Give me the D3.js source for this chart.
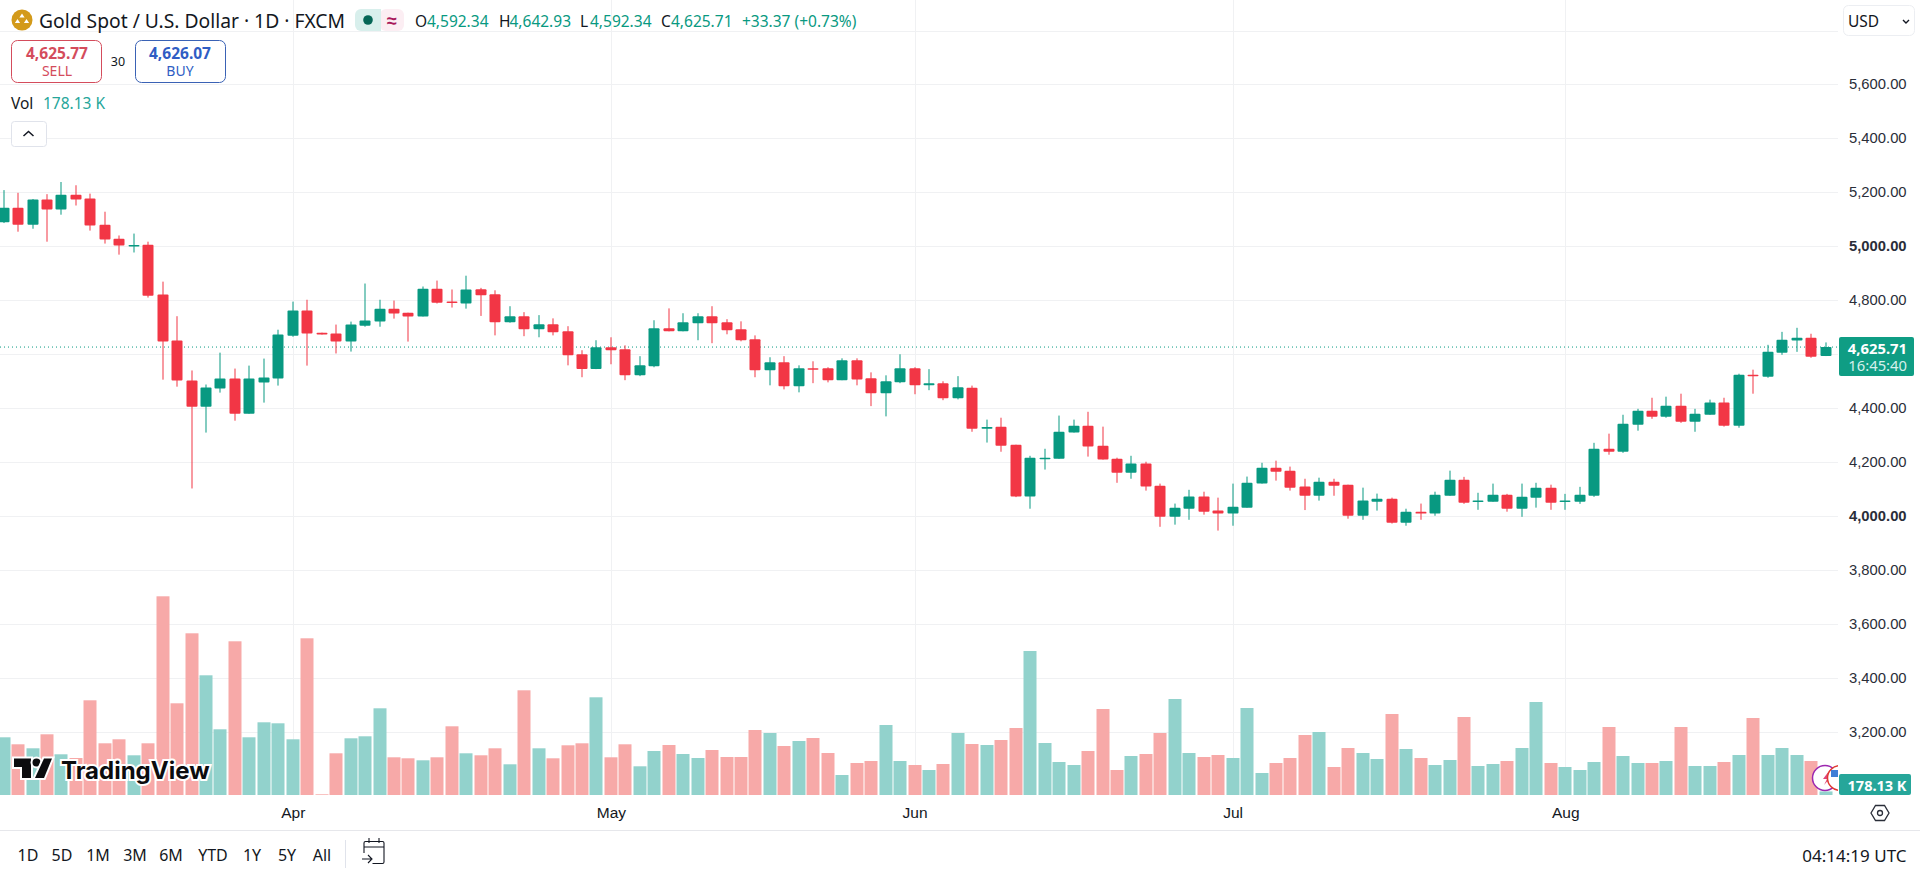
<!DOCTYPE html>
<html><head><meta charset="utf-8">
<style>
html,body{margin:0;padding:0;background:#fff;overflow:hidden}
svg{display:block;font-family:"Noto Sans",sans-serif}
.hg .domain,.vg .domain{display:none}
.hg line,.vg line{stroke:#f0f1f3;stroke-width:1;shape-rendering:crispEdges}
.hg text{font-size:14.8px;fill:#2a2e39}
.vg text{font-size:15.5px;fill:#131722;font-weight:500}
</style>
<script src="https://cdn.jsdelivr.net/npm/d3@7/dist/d3.min.js"></script>
</head><body>
<svg id="c" width="1920" height="877"></svg>
<script>
const open=[5088,5142,5079,5172,5135,5190,5176,5079,5027,5002,5005,4820,4650,4502,4405,4472,4509,4379,4494,4509,4668,4761,4679,4676,4646,4705,4720,4768,4753,4739,4842,4794,4787,4840,4821,4718,4740,4692,4710,4684,4599,4544,4625,4618,4521,4555,4695,4684,4714,4740,4718,4692,4655,4540,4569,4481,4547,4547,4503,4577,4510,4455,4495,4547,4484,4492,4436,4475,4323,4331,4264,4072,4212,4212,4309,4334,4260,4212,4160,4194,4112,3997,4027,4072,4020,4009,4031,4120,4179,4168,4109,4075,4127,4116,4001,4053,4064,3975,4016,4009,4075,4134,4053,4053,4079,4027,4068,4105,4052,4053,4075,4249,4238,4338,4390,4368,4408,4349,4375,4420,4334,4523,4516,4605,4650,4660,4592.34];
const high=[5207,5197,5174,5192,5237,5225,5194,5127,5039,5046,5016,4868,4740,4539,4487,4605,4546,4557,4583,4690,4794,4801,4679,4709,4720,4861,4801,4798,4753,4850,4872,4839,4890,4845,4836,4777,4755,4744,4732,4703,4614,4651,4662,4632,4592,4725,4769,4751,4751,4777,4729,4721,4669,4588,4592,4558,4573,4551,4584,4584,4532,4521,4599,4551,4544,4499,4518,4483,4357,4364,4264,4223,4249,4372,4357,4386,4331,4216,4223,4201,4120,4046,4097,4090,4068,4120,4146,4197,4205,4183,4138,4142,4138,4116,4105,4083,4068,4027,4046,4090,4168,4145,4086,4120,4082,4120,4123,4116,4082,4108,4271,4305,4375,4397,4438,4442,4453,4397,4431,4438,4527,4542,4634,4682,4697,4675,4642.93];
const low=[5085,5053,5064,5016,5116,5150,5057,5009,4968,4976,4809,4505,4479,4102,4309,4457,4353,4379,4420,4483,4664,4557,4672,4602,4609,4701,4701,4731,4646,4739,4787,4772,4768,4741,4669,4716,4666,4662,4669,4558,4514,4544,4562,4503,4518,4551,4684,4684,4651,4640,4673,4647,4514,4484,4469,4458,4492,4495,4503,4484,4407,4369,4492,4451,4466,4429,4432,4312,4272,4238,4070,4027,4172,4212,4309,4220,4209,4123,4138,4094,3960,3968,3986,4005,3946,3964,4031,4120,4131,4094,4022,4057,4075,3990,3986,4020,3972,3964,3986,4001,4075,4045,4023,4053,4016,3997,4031,4023,4023,4045,4071,4227,4234,4316,4360,4364,4345,4312,4375,4331,4327,4453,4512,4597,4608,4586,4592.34];
const close=[5142,5079,5172,5135,5190,5172,5076,5024,5002,5004,4816,4646,4502,4405,4476,4509,4379,4509,4513,4672,4761,4676,4672,4646,4709,4724,4768,4750,4739,4842,4790,4790,4839,4818,4718,4740,4692,4710,4681,4595,4544,4625,4614,4521,4558,4695,4684,4718,4740,4714,4688,4651,4540,4569,4481,4547,4544,4503,4577,4506,4455,4499,4547,4484,4492,4436,4477,4323,4330,4260,4072,4216,4216,4312,4334,4257,4209,4160,4194,4109,3997,4031,4072,4016,4009,4034,4123,4179,4164,4105,4075,4127,4112,4001,4057,4064,3975,4016,4009,4079,4134,4049,4057,4079,4027,4071,4105,4049,4057,4079,4249,4238,4342,4390,4368,4408,4349,4379,4420,4334,4523,4520,4608,4653,4660,4590,4625.71];
const volume=[2885,2535,2335,3035,2035,1850,4735,2585,2785,1985,2585,9935,4585,8085,5985,3285,7685,2885,3635,3585,2785,7835,35,2085,2835,2935,4335,1885,1835,1735,1885,3435,2085,1985,2335,1535,5235,2335,1835,2485,2585,4885,1885,2535,1435,
2200,2500,2050,1850,2250,1900,1900,3250,3100,2450,2700,2850,2100,1000,1600,1700,3500,1700,1500,1250,1550,3100,2550,2500,2750,3350,7200,2600,1650,1500,2200,4300,1250,1950,2050,3100,4800,2100,1900,2000,1850,4350,1100,1600,
1850,3000,3150,1400,2350,2100,1800,4050,2300,1850,1500,1750,3900,1450,1550,1700,2350,4650,1600,1400,1250,1650,3400,1950,1600,1600,1700,3400,1450,1450,1650,2000,3850,2000,2350,2000,1700,178.13];
const monthIndex=[20,42,63,85,108];
const monthLabels=["Apr","May","Jun","Jul","Aug"];
const priceTicks=[5600,5400,5200,5000,4800,4600,4400,4200,4000,3800,3600,3400,3200];
const priceLabels=["5,600.00","5,400.00","5,200.00","5,000.00","4,800.00","","4,400.00","4,200.00","4,000.00","3,800.00","3,600.00","3,400.00","3,200.00"];
const rangeButtons=["1D","5D","1M","3M","6M","YTD","1Y","5Y","All"];
const rangeButtonX=[28,62,98,135,171,213,252,287,322];
const ohlcLabels=[["O","4,592.34",415,427],["H","4,642.93",499,509.5],["L","4,592.34",580,590],["C","4,625.71",661,671]];

const UP="#089981",DOWN="#f23645",UPV="#92d2cc",DOWNV="#f7a9a8",AXIS_X=1838;
const svg=d3.select("#c");
const x=d3.scaleLinear().domain([0,126]).range([3.6,1825.5]);
const y=d3.scaleLinear().domain([4000,5600]).range([516,84]);
const yv=d3.scaleLinear().domain([0,10000]).range([795,595]);

const clipDefs=svg.append("defs");
clipDefs.append("clipPath").attr("id","pane").append("rect").attr("width",AXIS_X).attr("height",795);

// grid + axes
const hg=svg.append("g").attr("class","hg").attr("transform",`translate(${AXIS_X},0)`)
 .call(d3.axisRight(y).tickValues(priceTicks).tickSize(-AXIS_X).tickPadding(11).tickFormat((d,i)=>priceLabels[i]));
hg.selectAll("text").style("font-weight",d=>(d===5000||d===4000)?700:400);
svg.append("line").attr("x1",0).attr("x2",AXIS_X).attr("y1",31.5).attr("y2",31.5).attr("stroke","#f0f1f3");
const vg=svg.append("g").attr("class","vg").attr("transform","translate(0,795)")
 .call(d3.axisBottom(x).tickValues(monthIndex).tickSize(-795).tickPadding(10).tickFormat((d,i)=>monthLabels[i]));
vg.selectAll("text").attr("dy","0.32em").attr("y",18);
svg.append("line").attr("x1",0).attr("x2",1920).attr("y1",830.5).attr("y2",830.5).attr("stroke","#e6e7eb");

const pane=svg.append("g").attr("clip-path","url(#pane)");
const idx=d3.range(open.length);

// volume
pane.append("g").selectAll("rect").data(idx).join("rect")
 .attr("x",i=>Math.round(x(i))-6.5).attr("width",13)
 .attr("y",i=>yv(volume[i])).attr("height",i=>Math.max(1,795-yv(volume[i])))
 .attr("fill",i=>close[i]>=open[i]?UPV:DOWNV);

// last price line
pane.append("line").attr("x1",0).attr("x2",AXIS_X).attr("y1",y(close[126])).attr("y2",y(close[126]))
 .attr("stroke",UP).attr("stroke-width",1).attr("stroke-dasharray","1 3");

// candles
const cg=pane.append("g").selectAll("g").data(idx).join("g").attr("fill",i=>close[i]>=open[i]?UP:DOWN);
cg.append("rect").attr("x",i=>Math.round(x(i))-0.5).attr("width",1)
 .attr("y",i=>y(high[i])).attr("height",i=>y(low[i])-y(high[i]));
cg.append("rect").attr("x",i=>Math.round(x(i))-5.5).attr("width",11).attr("rx",1)
 .attr("y",i=>y(Math.max(open[i],close[i])))
 .attr("height",i=>Math.max(1.5,Math.abs(y(open[i])-y(close[i]))));

function t(s,px,py,o={}){
 const e=svg.append("text").attr("x",px).attr("y",py).attr("dominant-baseline","central").text(s)
  .attr("font-size",o.size||14).attr("fill",o.fill||"#131722").attr("font-weight",o.weight||400)
  .attr("text-anchor",o.anchor||"start");
 if(o.family)e.attr("font-family",o.family);
 return e;
}

// header
svg.append("circle").attr("cx",22).attr("cy",20).attr("r",10.5).attr("fill","#d39a1a");
svg.append("path").attr("d","M22,13.5 l2.6,4 h-5.2z M17.5,19 l2.6,4 h-5.2z M26.5,19 l2.6,4 h-5.2z").attr("fill","#fff");
t("Gold Spot / U.S. Dollar · 1D · FXCM",39,20.5,{size:19.3});
svg.append("rect").attr("x",380).attr("y",9).attr("width",24).attr("height",22).attr("rx",6).attr("fill","#fceef3");
svg.append("path").attr("d","M381,9 H361 a6,6 0 0 0 -6,6 v10 a6,6 0 0 0 6,6 H381 z").attr("fill","#d8efec");
svg.append("circle").attr("cx",368).attr("cy",20).attr("r",4.8).attr("fill","#056656");
t("≈",392,19.5,{size:18,anchor:"middle",fill:"#a9195b",weight:700});
ohlcLabels.forEach(([l,v,lx,vx])=>{t(l,lx,21,{size:15.5});t(v,vx,21,{size:15.5,fill:UP});});
t("+33.37 (+0.73%)",742,21,{size:15.5,fill:UP});

// buy/sell
svg.append("rect").attr("x",11.5).attr("y",40.5).attr("width",90).attr("height",42).attr("rx",6).attr("fill","#fff").attr("stroke","#d44c5c");
t("4,625.77",57,52.5,{size:15.5,weight:700,fill:"#d44c5c",anchor:"middle"});
t("SELL",57,70,{size:14,fill:"#d44c5c",anchor:"middle"});
t("30",118,61,{size:12.5,anchor:"middle"});
svg.append("rect").attr("x",135.5).attr("y",40.5).attr("width",90).attr("height",42).attr("rx",6).attr("fill","#fff").attr("stroke","#3a62b5");
t("4,626.07",180,52.5,{size:15.5,weight:700,fill:"#2f5dc4",anchor:"middle"});
t("BUY",180,70,{size:14,fill:"#2f5dc4",anchor:"middle"});

t("Vol",11,102.5,{size:15.5});
t("178.13 K",43,102.5,{size:15.5,fill:"#26a69a"});
svg.append("rect").attr("x",11.5).attr("y",121.5).attr("width",35).attr("height",25).attr("rx",3).attr("fill","#fff").attr("stroke","#e0e3eb");
svg.append("path").attr("d","M23.5,136 l5,-4.5 l5,4.5").attr("fill","none").attr("stroke","#131722").attr("stroke-width",1.5);

// USD
svg.append("rect").attr("x",1843.5).attr("y",5.5).attr("width",71).attr("height",30).attr("rx",5).attr("fill","#fff").attr("stroke","#eceef2");
t("USD",1848,21,{size:15.5});
svg.append("path").attr("d","M1903,20 l3,3 l3,-3").attr("fill","none").attr("stroke","#131722").attr("stroke-width",1.4);

// last price label
svg.append("rect").attr("x",1839).attr("y",337).attr("width",75).attr("height",39).attr("rx",2).attr("fill","#0f9d84");
t("4,625.71",1907,347.5,{size:14.8,weight:700,fill:"#fff",anchor:"end"});
t("16:45:40",1907,365,{size:14.8,fill:"#d6f0ec",anchor:"end"});

// logo
const logo=svg.append("g").attr("fill","#0b0c0e").attr("stroke","#fff").attr("stroke-width",4).attr("paint-order","stroke");
logo.append("path").attr("d","M14,758.5 H31 V778 H22 V767 H14 Z");
logo.append("circle").attr("cx",36.5).attr("cy",762.5).attr("r",4);
logo.append("path").attr("d","M44,758.5 H52 L44,778 H35 Z");
t("TradingView",61,770,{size:24,weight:700,fill:"#0b0c0e",family:"Inter"}).attr("stroke","#fff").attr("stroke-width",4).attr("paint-order","stroke");

// event icons
pane.append("circle").attr("cx",1825).attr("cy",778).attr("r",12.5).attr("fill","#fff").attr("stroke","#9c27b0").attr("stroke-width",1.5);
pane.append("path").attr("d","M1829,771 l-6,8 h4 l-3,6 l7,-8 h-4 z").attr("fill","#e0457b");
pane.append("circle").attr("cx",1840).attr("cy",778).attr("r",12.5).attr("fill","#fff").attr("stroke","#e0392f").attr("stroke-width",1.5);
pane.append("rect").attr("x",1831).attr("y",770).attr("width",7).attr("height",7).attr("fill","#3f7fd6");

// volume label + settings
svg.append("rect").attr("x",1839).attr("y",774).attr("width",72).attr("height",21).attr("rx",2).attr("fill","#26a69a");
t("178.13 K",1906.5,784.5,{size:14.5,weight:700,fill:"#fff",anchor:"end"});
svg.append("path").attr("d","M1871,813 l4.5,-7.5 h9 l4.5,7.5 l-4.5,7.5 h-9 z").attr("fill","none").attr("stroke","#2a2e39").attr("stroke-width",1.3);
svg.append("circle").attr("cx",1880).attr("cy",813).attr("r",2.5).attr("fill","none").attr("stroke","#2a2e39").attr("stroke-width",1.3);

// bottom bar
svg.append("g").selectAll("text").data(rangeButtons).join("text")
 .attr("x",(d,i)=>rangeButtonX[i]).attr("y",855).attr("text-anchor","middle").attr("dominant-baseline","central")
 .attr("font-size",16).attr("fill","#131722").text(d=>d);
svg.append("line").attr("x1",345.5).attr("x2",345.5).attr("y1",840).attr("y2",868).attr("stroke","#e0e3eb");
svg.append("path").attr("d","M364,853 v-10 a1.5,1.5 0 0 1 1.5,-1.5 h17 a1.5,1.5 0 0 1 1.5,1.5 v19 a1.5,1.5 0 0 1 -1.5,1.5 h-10 M364,847 h20 M369,838 v5 M379,838 v5 M362,859 h9 M368,855 l4,4 l-4,4")
 .attr("fill","none").attr("stroke","#131722").attr("stroke-width",1.1);
t("04:14:19 UTC",1906.5,855,{size:17,anchor:"end"});
</script>
</body></html>
